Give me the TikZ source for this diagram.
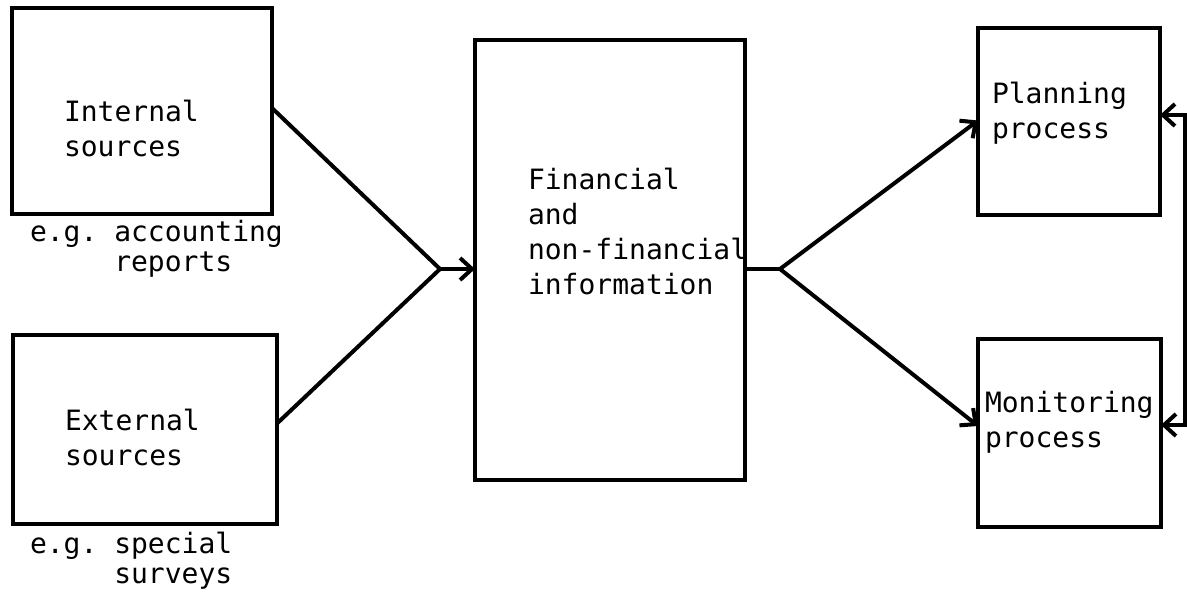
\documentclass[tikz,border=0pt]{standalone}
\usepackage{fontspec}
\setmonofont{DejaVu Sans Mono}
\usetikzlibrary{positioning,calc,arrows.meta}

\begin{document}
\begin{tikzpicture}[x=0.5pt, y=-0.5pt, >={Straight Barb[length=6pt,width=11pt]}, line width=2pt,
  box/.style={draw, inner sep=0pt, outer sep=0pt},
  boxtext/.style={anchor=base west, align=left, inner sep=0pt, font=\ttfamily\fontsize{14}{17.5}\selectfont},
  example/.style={boxtext, font=\ttfamily\fontsize{14}{15}\selectfont}]
  \useasboundingbox (0,0) rectangle (1187,591);

  \node[box, minimum width=130pt, minimum height=103pt] (int) at (142,111) {};
  \node[box, minimum width=132pt, minimum height=94.5pt] (ext) at (145,429.5) {};
  \node[box, minimum width=135pt, minimum height=220pt] (info) at (610,260) {};
  \node[box, minimum width=91pt, minimum height=93.5pt] (plan) at (1069,121.5) {};
  \node[box, minimum width=91.5pt, minimum height=94pt] (mon) at (1069.5,433) {};

  % base west sits on the last line
  \node[boxtext] (intlbl) at (62,156) {Internal\\sources};
  \node[example] (intex) at (28,271) {e.g. accounting\\\hphantom{e.g.\ }reports};
  \node[boxtext] (extlbl) at (63,465) {External\\sources};
  \node[example] (extex) at (28,583) {e.g. special\\\hphantom{e.g.\ }surveys};
  \node[boxtext] (infolbl) at (526,294) {Financial\\and\\non-financial\\information};
  \node[boxtext] (planlbl) at (990,138) {Planning\\process};
  \node[boxtext] (monlbl) at (983,447) {Monitoring\\process};

  \coordinate (in) at (440,269);
  \coordinate (out) at (780,269);
  \coordinate (fbtop) at (1185,115);
  \coordinate (fbbot) at (1185,425);

  \draw ($(int.east)+(0,-3)$) -- (in);
  \draw ($(ext.east)+(0,-6)$) -- (in);
  \draw[->] (in) -- (in -| info.west);
  \draw (out -| info.east) -- (out);
  \draw[->] (out) -- ($(plan.west)+(0,-1)$);
  \draw[->] (out) -- ($(mon.west)+(0,-7)$);
  \draw[<->] (fbtop -| plan.east) -- (fbtop) -- (fbbot) -- (fbbot -| mon.east);
\end{tikzpicture}
\end{document}
